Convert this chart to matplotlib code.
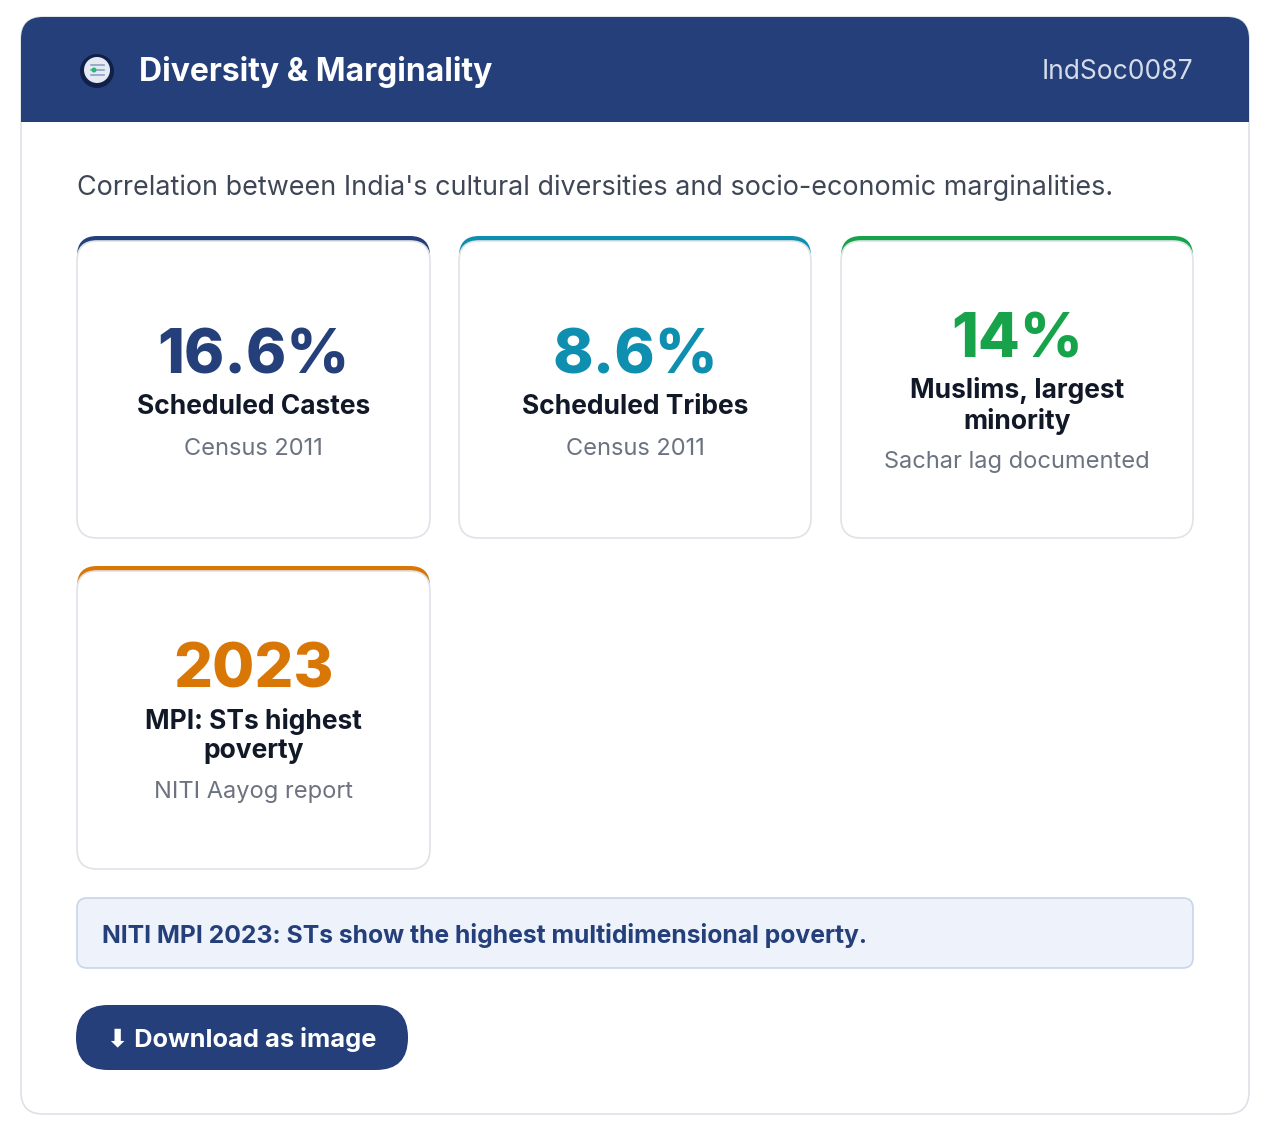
import matplotlib.pyplot as plt
from matplotlib.patches import FancyBboxPatch, Rectangle, Circle

plt.rcParams['font.family'] = ['Inter', 'DejaVu Sans']

title = "Diversity & Marginality"
code = "IndSoc0087"
subtitle = "Correlation between India's cultural diversities and socio-economic marginalities."
values = ["16.6%", "8.6%", "14%", "2023"]
labels = ["Scheduled Castes", "Scheduled Tribes", "Muslims, largest\nminority", "MPI: STs highest\npoverty"]
sources = ["Census 2011", "Census 2011", "Sachar lag documented", "NITI Aayog report"]
colors = ["#243f7a", "#0e8fb0", "#16a34a", "#d97706"]
note = "NITI MPI 2023: STs show the highest multidimensional poverty."
button = "\u2b07 Download as image"

NAVY = "#243f7a"


def rbox(ax, x0, y0, x1, y1, r, fc, ec="none", lw=0, z=1):
    p = FancyBboxPatch((x0 + r, y0 + r), x1 - x0 - 2 * r, y1 - y0 - 2 * r,
                       boxstyle=f"round,pad={r}", fc=fc, ec=ec, lw=lw, zorder=z)
    ax.add_patch(p)


fig = plt.figure(figsize=(12.7, 11.39), dpi=100)
ax = fig.add_axes([0, 0, 1, 1])
ax.set_xlim(0, 1270)
ax.set_ylim(1139, 0)
ax.axis('off')

# outer card
rbox(ax, 21, 17, 1249, 1114, 22, "white", "#dde1e7", 1.2, 1)
rbox(ax, 21, 17, 1249, 122, 22, NAVY, z=2)
ax.add_patch(Rectangle((21, 80), 1228, 42, fc=NAVY, ec="none", zorder=2))

# header icon
ax.add_patch(Circle((97, 71), 17, fc="#10204a", zorder=3))
ax.add_patch(Circle((97, 70), 13, fc="#e4e9f2", zorder=4))
for dy in (-5, 0, 5):
    ax.plot([91, 104], [70 + dy, 70 + dy], color="#8aa0c8", lw=1.2, zorder=5)
ax.add_patch(Circle((94, 70), 2.5, fc="#2bb673", zorder=6))
ax.text(139, 72, title, color="white", fontsize=23, fontweight="bold", va="center", zorder=5)
ax.text(1193, 72, code, color="#d5dcea", fontsize=19, va="center", ha="right", zorder=5)

ax.text(77, 188, subtitle, color="#3f4756", fontsize=19.4, va="center", zorder=5)

# stat cards
xs = [(77, 430), (459, 811), (841, 1193), (77, 430)]
ys = [(236, 538), (236, 538), (236, 538), (566, 869)]
for i in range(len(values)):
    x0, x1 = xs[i]
    y0, y1 = ys[i]
    rbox(ax, x0, y0, x1, y1, 20, colors[i], z=3)
    rbox(ax, x0, y0 + 5, x1, y1, 20, "white", "#dfe3e8", 1.2, 4)
    cx = (x0 + x1) / 2
    two = "\n" in labels[i]
    top = y0 + (100 if two else 116)
    ax.text(cx, top + 5, values[i], color=colors[i], fontsize=44, fontweight="heavy",
            ha="center", va="center", zorder=5)
    ly = top + (70 if two else 55)
    ax.text(cx, ly, labels[i], color="#111827", fontsize=19, fontweight="bold",
            ha="center", va="center", linespacing=1.15, zorder=5)
    sy = ly + (56 if two else 42)
    ax.text(cx, sy, sources[i], color="#6b7280", fontsize=17, ha="center", va="center", zorder=5)

# note
rbox(ax, 77, 898, 1193, 968, 10, "#edf2fb", "#c9d5e8", 1.2, 3)
ax.text(102, 935, note, color=NAVY, fontsize=17.8, fontweight="bold", va="center", zorder=5)

# button
rbox(ax, 76, 1005, 408, 1070, 32, NAVY, z=3)
ax.text(242, 1039, button, color="white", fontsize=18.3, fontweight="bold",
        ha="center", va="center", zorder=5)

fig.savefig("out.png", dpi=100, facecolor="white")
